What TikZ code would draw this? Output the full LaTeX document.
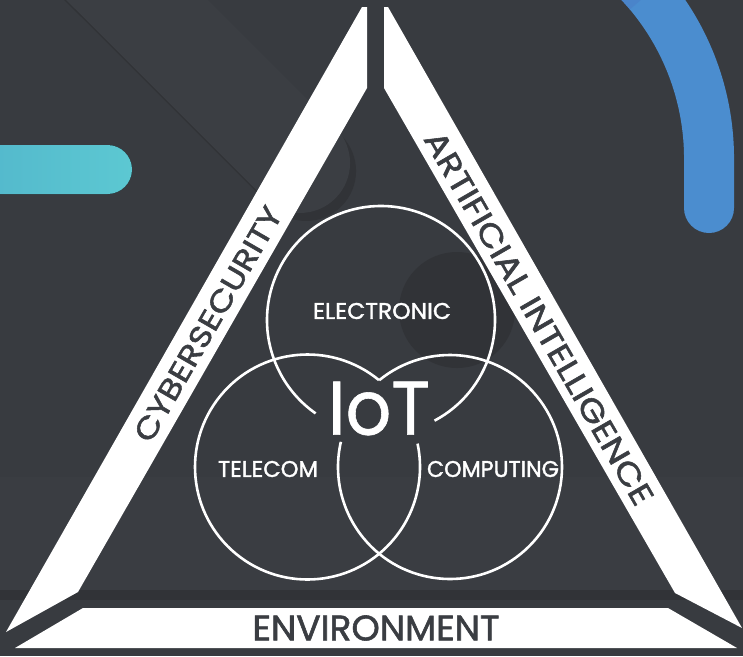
\documentclass[tikz,border=0pt]{standalone}
\usepackage{fontspec}
\setmainfont{Poppins}
\newfontfamily\medfont{Poppins}[FakeBold=1.6]
\newfontfamily\semifont{Poppins}[FakeBold=0.8]
\usepackage{graphicx}
\definecolor{bg}{HTML}{383B40}
\definecolor{pillc}{HTML}{3B3E43}
\definecolor{slabc}{HTML}{3A3D42}
\definecolor{shadowc}{HTML}{313337}
\definecolor{bandtext}{HTML}{3A3D42}
\definecolor{cyanA}{HTML}{52B6CB}
\definecolor{cyanB}{HTML}{5CC8D2}
\definecolor{blueA}{HTML}{4B8DCF}
\definecolor{blueB}{HTML}{4A7DC7}
\begin{document}
\begin{tikzpicture}[x=1pt,y=-1pt,
  band/.style={fill=white},
  ring/.style={draw=white,line width=2.6pt},
  inlabel/.style={text=white,inner sep=0pt,font=\medfont},
  bandlabel/.style={text=bandtext,inner sep=0pt,font=\medfont}]
\useasboundingbox (0,0) rectangle (743,656);
\fill[bg] (0,0) rectangle (743,656);
\begin{scope}
\clip (0,0) rectangle (743,656);
% decorative pill with shadow
\fill[shadowc] (78.4,-127.4) -- (341.4,135.6) arc[start angle=-45,end angle=135,radius=50] -- (7.6,-56.6) -- cycle;
\fill[pillc] (72.4,-135.4) -- (335.4,127.6) arc[start angle=-45,end angle=135,radius=50] -- (1.6,-64.6) -- cycle;
% slab and shadow near bottom
\fill[slabc] (0,477) rectangle (743,590);
\fill[shadowc] (0,590) rectangle (743,600);
% dark disc
\fill[shadowc] (457,310) circle[radius=58];
% cyan bar
\fill[left color=cyanA,right color=cyanB,rounded corners=24.5pt] (-40,145) rectangle (132,194);
% blue arc
\draw[blueA,line width=50pt,line cap=round] (627.3,-29.5) arc[start angle=-47,end angle=0,radius=257] -- (709,208);
\draw[blueB,line width=50pt,opacity=0.5] (627.3,-29.5) arc[start angle=-47,end angle=-40,radius=257];
\end{scope}
% white bands
\fill[band] (362,7) -- (367,7) -- (367,88) -- (78,592) -- (6,632) -- cycle;
\fill[band] (384,7) -- (388,7) -- (742,628) -- (675,593) -- (384,88) -- cycle;
\fill[band] (15,648) -- (83,608) -- (668,608) -- (737,648) -- cycle;
% band labels
\node[bandlabel,rotate=60] (cyber) at (208,324) {\resizebox{266pt}{21pt}{CYBERSECURITY}};
\node[bandlabel,rotate=-60] (ai) at (539,318) {\resizebox{426pt}{22pt}{ARTIFICIAL INTELLIGENCE}};
\node[bandlabel] (env) at (376,628) {\resizebox{247pt}{25pt}{ENVIRONMENT}};
% circles
\coordinate (ce) at (381,320);
\coordinate (ct) at (307.5,467);
\coordinate (cc) at (450,467);
\draw[ring] (ce) ++(62:114) arc[start angle=62,end angle=-235,radius=114];
\draw[ring] (ct) ++(-50.6:112.5) arc[start angle=-50.6,end angle=-372,radius=112.5];
\draw[ring] (cc) ++(-129.2:112) arc[start angle=-129.2,end angle=193,radius=112];
% circle labels
\node[inlabel] (elec) at (382,311) {\resizebox{138pt}{16pt}{ELECTRONIC}};
\node[inlabel] (tele) at (268,469) {\resizebox{100pt}{16pt}{TELECOM}};
\node[inlabel] (comp) at (493,469) {\resizebox{132pt}{16pt}{COMPUTING}};
\node[inlabel,font=\semifont] (iot) at (379,408.5) {\resizebox{102pt}{53pt}{IoT}};
\end{tikzpicture}
\end{document}
